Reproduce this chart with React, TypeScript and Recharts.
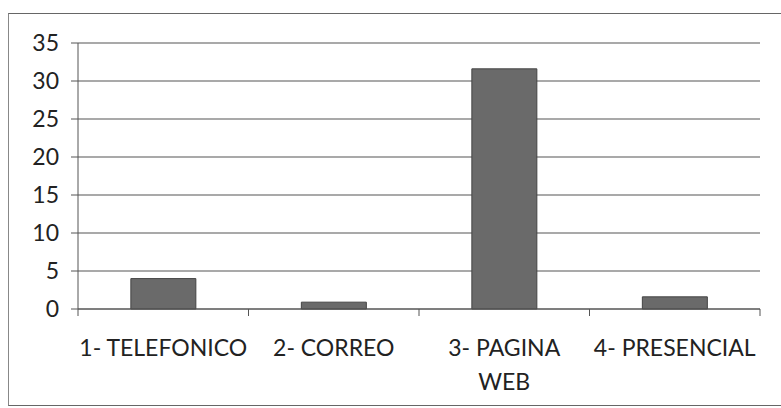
import { BarChart, Bar, XAxis, YAxis, CartesianGrid } from 'recharts';

// Data
const categories = ['1- TELEFONICO', '2- CORREO', '3- PAGINA\nWEB', '4- PRESENCIAL'];
const values = [4, 0.9, 31.6, 1.6];
const yTicks = [0, 5, 10, 15, 20, 25, 30, 35];

const data = categories.map((name, i) => ({ name, value: values[i] }));

const CHART_W = 770;
const CHART_H = 380;
const MARGIN = { top: 29, right: 19, left: 0, bottom: 15 };
const Y_AXIS_W = 69;
const X_AXIS_H = 70;
const PLOT_W = CHART_W - MARGIN.left - MARGIN.right - Y_AXIS_W;
const AXIS_Y = CHART_H - MARGIN.bottom - X_AXIS_H;
const FONT = 'Lato, "Open Sans", sans-serif';

// Excel-style tick: marks sit on the category boundaries, label may wrap
function CategoryTick(props: any) {
  const { x, payload, index } = props;
  const band = PLOT_W / categories.length;
  const lines = String(payload.value).split('\n');
  return (
    <g>
      <line x1={x - band / 2} x2={x - band / 2} y1={AXIS_Y} y2={AXIS_Y + 7} stroke="#555" />
      {index === categories.length - 1 && (
        <line x1={x + band / 2} x2={x + band / 2} y1={AXIS_Y} y2={AXIS_Y + 7} stroke="#555" />
      )}
      <text x={x} y={AXIS_Y + 47} textAnchor="middle" fontSize={23} fill="#222" fontFamily={FONT}>
        {lines.map((l, i) => (
          <tspan key={i} x={x} dy={i === 0 ? 0 : 34}>
            {l}
          </tspan>
        ))}
      </text>
    </g>
  );
}

export default function App() {
  return (
    <div
      style={{
        position: 'absolute',
        left: 8,
        top: 13,
        width: 800,
        height: 391,
        borderTop: '1px solid #666',
        borderLeft: '1px solid #888',
        borderBottom: '1px solid #666',
        background: '#fff',
      }}
    >
      <BarChart
        width={CHART_W}
        height={CHART_H}
        data={data}
        margin={MARGIN}
        barCategoryGap="31%"
        style={{ marginTop: 0 }}
      >
        <CartesianGrid vertical={false} stroke="#555" strokeWidth={1.2} />
        <XAxis
          dataKey="name"
          height={X_AXIS_H}
          interval={0}
          tickLine={false}
          axisLine={{ stroke: '#555' }}
          tick={<CategoryTick />}
        />
        <YAxis
          width={Y_AXIS_W}
          domain={[0, 35]}
          ticks={yTicks}
          interval={0}
          tickSize={7}
          tickMargin={12}
          axisLine={{ stroke: '#555' }}
          tickLine={{ stroke: '#555' }}
          tick={{ fontSize: 23, fill: '#222', fontFamily: FONT }}
        />
        <Bar dataKey="value" fill="#6a6a6a" stroke="#444" isAnimationActive={false} />
      </BarChart>
    </div>
  );
}
